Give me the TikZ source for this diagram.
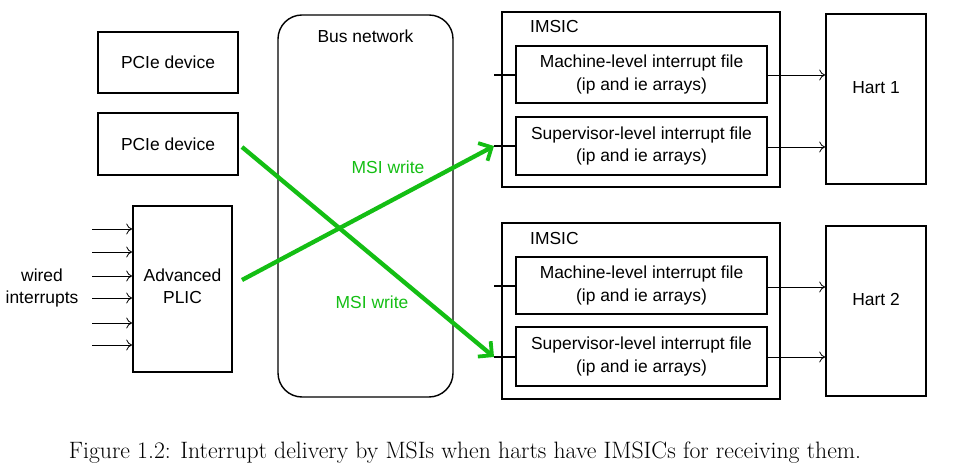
\documentclass[tikz,border=0pt]{standalone}
\usepackage{fontspec}
\newfontfamily\diagfont{Liberation Sans}
\usetikzlibrary{arrows.meta}
\definecolor{msigreen}{RGB}{20,190,20}
\begin{document}
\begin{tikzpicture}[x=1bp,y=-1bp,
  box/.style={draw,line width=1.6bp,rectangle,inner sep=0pt,align=center,font=\diagfont\fontsize{17.5}{23}\selectfont},
  lbl/.style={inner sep=0pt,align=center,font=\diagfont\fontsize{17.5}{22}\selectfont},
  inarrow/.style={line width=0.8bp,-{To[length=6bp,width=11bp]}},
  msiarrow/.style={draw=msigreen,line width=4.3bp,-{Straight Barb[length=10bp,width=20bp,line width=3.8bp]}},
  msilbl/.style={text=msigreen,inner sep=0pt,font=\diagfont\fontsize{17.5}{22}\selectfont},
  stub/.style={line width=2.2bp}]
\useasboundingbox (0,0) rectangle (979,474);
% left side
\node[box,minimum width=140bp,minimum height=61bp] (pcie1) at (168,62.5) {PCIe device};
\node[box,minimum width=140bp,minimum height=62bp] (pcie2) at (168,144) {PCIe device};
\node[box,minimum width=99bp,minimum height=166bp] (plic) at (182.5,289) {};
\node[lbl] (plicl) at (182.5,286) {Advanced\\PLIC};
\node[lbl] (wired) at (42,288) {wired\\interrupts};
\foreach \yy/\nm in {229/a,252/b,276/c,298/d,323/e,345/f}{
  \coordinate (in\nm) at (92,\yy);
  \draw[inarrow] (in\nm) -- (plic.west |- in\nm);
}
% bus
\node[draw,line width=1.4bp,rounded corners=24bp,minimum width=175bp,minimum height=382bp,inner sep=0pt] (bus) at (365.5,206) {};
\node[lbl,anchor=north] (busl) at (365.5,30) {Bus network};
% IMSIC 1
\node[box,minimum width=278bp,minimum height=175bp] (im1) at (641,99.5) {};
\node[lbl,anchor=north west] (im1l) at (530,20) {IMSIC};
\node[box,minimum width=251bp,minimum height=57bp] (m1) at (641.5,74.5) {Machine-level interrupt file\\(ip and ie arrays)};
\node[box,minimum width=251bp,minimum height=58bp] (s1) at (641.5,146) {Supervisor-level interrupt file\\(ip and ie arrays)};
% IMSIC 2
\node[box,minimum width=278bp,minimum height=176bp] (im2) at (641,311) {};
\node[lbl,anchor=north west] (im2l) at (530,232) {IMSIC};
\node[box,minimum width=251bp,minimum height=57bp] (m2) at (641.5,285.5) {Machine-level interrupt file\\(ip and ie arrays)};
\node[box,minimum width=251bp,minimum height=59bp] (s2) at (641.5,356.5) {Supervisor-level interrupt file\\(ip and ie arrays)};
% harts
\node[box,minimum width=100bp,minimum height=170bp] (h1) at (876,99) {};
\node[lbl] (h1l) at (876,88) {Hart 1};
\node[box,minimum width=100bp,minimum height=170bp] (h2) at (876,311) {};
\node[lbl] (h2l) at (876,299) {Hart 2};
% stubs
\coordinate (st1) at (494,75);
\coordinate (st2) at (494,146);
\coordinate (st3) at (494,286);
\coordinate (st4) at (494,357);
\draw[stub] (st1) -- (m1.west |- st1);
\draw[stub] (st2) -- (s1.west |- st2);
\draw[stub] (st3) -- (m2.west |- st3);
\draw[stub] (st4) -- (s2.west |- st4);
% hart arrows
\draw[inarrow] (m1.east |- 0,75) -- (h1.west |- 0,75);
\draw[inarrow] (s1.east |- 0,147) -- (h1.west |- 0,147);
\draw[inarrow] (m2.east |- 0,287) -- (h2.west |- 0,287);
\draw[inarrow] (s2.east |- 0,357) -- (h2.west |- 0,357);
% MSI writes
\coordinate (g1) at (242,147);
\coordinate (g2) at (242,280);
\draw[msiarrow] (g1) -- (st4);
\draw[msiarrow] (g2) -- (st2);
\node[msilbl] (w1) at (388,167) {MSI write};
\node[msilbl] (w2) at (372,302) {MSI write};
% caption
\node[inner sep=0pt,font=\fontsize{23.8}{28}\selectfont] (cap) at (465,453) {Figure 1.2: Interrupt delivery by MSIs when harts have IMSICs for receiving them.};
\end{tikzpicture}
\end{document}
